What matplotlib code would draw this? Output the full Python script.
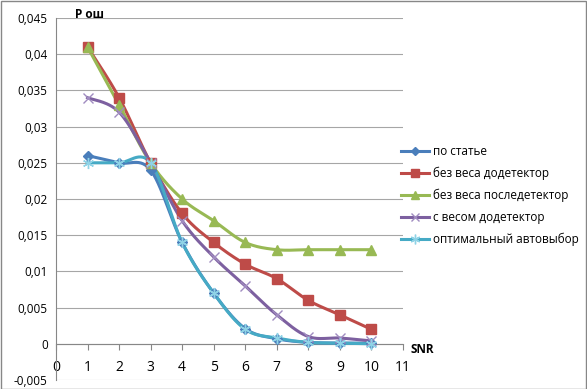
import numpy as np
import matplotlib.pyplot as plt
from matplotlib.lines import Line2D

snr = [1, 2, 3, 4, 5, 6, 7, 8, 9, 10]
po_state = [0.026, 0.025, 0.024, 0.014, 0.007, 0.0021, 0.0007, 0.0002, 0.0001, 0.0001]
bez_vesa_do = [0.041, 0.034, 0.025, 0.018, 0.014, 0.011, 0.009, 0.006, 0.004, 0.002]
bez_vesa_posle = [0.041, 0.033, 0.025, 0.020, 0.017, 0.014, 0.013, 0.013, 0.013, 0.013]
s_vesom_do = [0.034, 0.032, 0.025, 0.017, 0.012, 0.008, 0.004, 0.001, 0.0008, 0.0004]
optim = [0.025, 0.025, 0.025, 0.014, 0.007, 0.002, 0.0008, 0.0002, 0.0001, 0.0]

labels = ['по статье', 'без веса додетектор', 'без веса последетектор',
          'с весом додетектор', 'оптимальный автовыбор']
xticks = list(range(0, 12))
yticks = [-0.005, 0, 0.005, 0.01, 0.015, 0.02, 0.025, 0.03, 0.035, 0.04, 0.045]

plt.rcParams['font.family'] = ['Open Sans', 'DejaVu Sans']


def smooth(x, y, n=30):
    # Excel-style bezier smoothing
    x = np.asarray(x, float)
    y = np.asarray(y, float)
    px = np.concatenate([[x[0]], x, [x[-1]]])
    py = np.concatenate([[y[0]], y, [y[-1]]])
    xs, ys = [], []
    t = np.linspace(0, 1, n)
    for i in range(1, len(px) - 2):
        p0 = np.array([px[i], py[i]])
        p3 = np.array([px[i + 1], py[i + 1]])
        c1 = p0 + (np.array([px[i + 1], py[i + 1]]) - np.array([px[i - 1], py[i - 1]])) / 6
        c2 = p3 - (np.array([px[i + 2], py[i + 2]]) - np.array([px[i], py[i]])) / 6
        b = ((1 - t) ** 3)[:, None] * p0 + (3 * (1 - t) ** 2 * t)[:, None] * c1 \
            + (3 * (1 - t) * t ** 2)[:, None] * c2 + (t ** 3)[:, None] * p3
        xs.extend(b[:, 0])
        ys.extend(b[:, 1])
    return xs, ys


fig = plt.figure(figsize=(5.87, 3.89), dpi=100)
ax = fig.add_axes([0.0954, 0.0231, 0.591, 0.9306])

series = [
    (po_state, '#4A7EBB', '#4A7EBB', 'D', 5),
    (bez_vesa_do, '#BE4B48', '#BE4B48', 's', 7),
    (bez_vesa_posle, '#98B954', '#98B954', '^', 7),
    (s_vesom_do, '#7D60A0', '#A08CC0', 'x', 7),
    (optim, '#46AAC5', '#8FD3E6', (6, 2, 0), 8),
]

handles = []
for (vals, col, mcol, mk, ms), lab in zip(series, labels):
    sx, sy = smooth(snr, vals)
    ax.plot(sx, sy, color=col, lw=2.2, zorder=3)
    ax.plot(snr, vals, ls='none', marker=mk, ms=ms, color=mcol,
            markeredgecolor=mcol, mew=1.0, zorder=4)
    handles.append(Line2D([], [], color=col, lw=2.2, marker=mk, ms=ms - 1,
                          markerfacecolor=mcol, markeredgecolor=mcol, label=lab))

ax.set_xlim(0, 11)
ax.set_ylim(-0.005, 0.045)
ax.set_yticks(yticks)
ax.set_yticklabels([('%g' % v).replace('.', ',') for v in yticks], fontsize=8.5)
ax.set_xticks(xticks)
ax.set_xticklabels([str(v) for v in xticks], fontsize=8.5)
ax.grid(axis='y', color='#a6a6a6', lw=0.8)
ax.set_axisbelow(True)
ax.spines['top'].set_visible(False)
ax.spines['right'].set_visible(False)
ax.spines['bottom'].set_position(('data', 0))
ax.spines['bottom'].set_color('#878787')
ax.spines['left'].set_color('#878787')
ax.tick_params(axis='x', direction='out', length=4, color='#878787', pad=8)
ax.tick_params(axis='y', length=0, pad=6)

fig.text(0.128, 0.955, 'Р ош', fontsize=8.5, fontweight='bold')
fig.text(0.700, 0.093, 'SNR', fontsize=8.5, fontweight='bold')

fig.legend(handles=handles, loc='upper left', bbox_to_anchor=(0.665, 0.655),
           frameon=False, fontsize=8.5, handlelength=2.4, handletextpad=0.3,
           labelspacing=0.75)

fig.patches.append(plt.Rectangle((0.001, 0.001), 0.997, 0.997, transform=fig.transFigure,
                                 fill=False, edgecolor='#878787', lw=1))

fig.savefig('out.png', dpi=100)
